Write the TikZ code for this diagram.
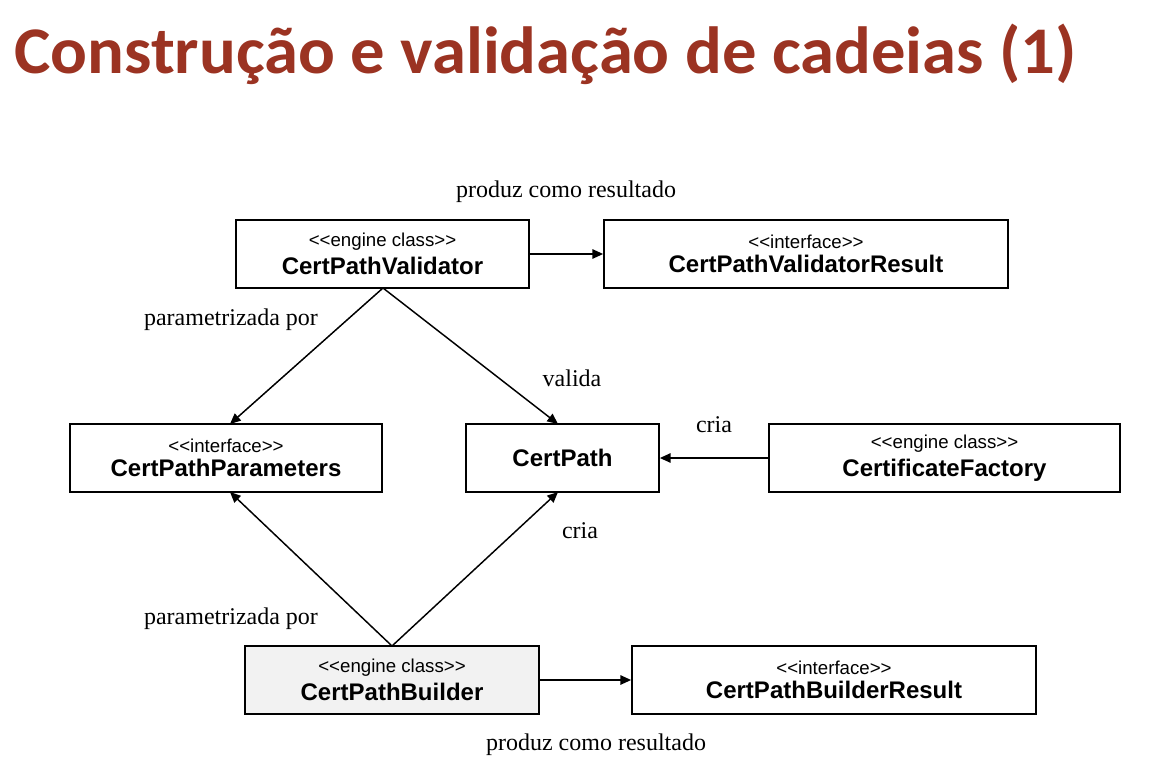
\documentclass[tikz,border=0pt]{standalone}
\usepackage{graphicx}
\usepackage{fontspec}
\setmainfont{Liberation Serif}
\setsansfont{Liberation Sans}
\newfontfamily\titlefont{Carlito}
\usetikzlibrary{arrows.meta}
\definecolor{titlered}{HTML}{9B3322}
\definecolor{shade}{HTML}{F2F2F2}
\tikzset{
  box/.style={draw, line width=1.3pt, inner sep=0pt, minimum height=51pt, align=center, font=\sffamily},
  conn/.style={line width=1.1pt, -{Triangle[length=8pt,width=7pt]}},
  lbl/.style={font=\fontsize{18}{20}\selectfont, inner sep=0pt},
}
\newcommand{\stereo}[1]{{\fontsize{14}{15}\selectfont #1}}
\newcommand{\cname}[1]{{\fontsize{18}{20}\selectfont\bfseries #1}}
\begin{document}
\begin{tikzpicture}[x=0.75pt,y=-0.75pt]
\useasboundingbox (0,0) rectangle (1162,777);
\node[anchor=base west, inner sep=0pt, text=titlered, font=\titlefont\bfseries\fontsize{50}{56}\selectfont] (title) at (14,74) {\resizebox{797pt}{\height}{Construção e validação de cadeias (1)}};

\node[box, minimum width=219.75pt] (cpv) at (382.5,254) {\stereo{<{}<engine class>{}>}\\[4pt]\cname{CertPathValidator}};
\node[box, minimum width=303pt] (cpvr) at (806,254) {\stereo{<{}<interface>{}>}\\[4pt]\cname{CertPathValidatorResult}};
\node[box, minimum width=234pt] (cpp) at (226,458) {\stereo{<{}<interface>{}>}\\[4pt]\cname{CertPathParameters}};
\node[box, minimum width=144.75pt] (cp) at (562.5,458) {\cname{CertPath}};
\node[box, minimum width=263.25pt] (cf) at (944.5,458) {\stereo{<{}<engine class>{}>}\\[4pt]\cname{CertificateFactory}};
\node[box, minimum width=220.5pt, fill=shade] (cpb) at (392,680) {\stereo{<{}<engine class>{}>}\\[4pt]\cname{CertPathBuilder}};
\node[box, minimum width=303pt] (cpbr) at (834,680) {\stereo{<{}<interface>{}>}\\[4pt]\cname{CertPathBuilderResult}};

\coordinate (cpvb) at (383,288);
\coordinate (cppt) at (230,424);
\coordinate (cpt) at (558,424);
\coordinate (cppb) at (230,492);
\coordinate (cpbo) at (558,492);
\coordinate (cpbt) at (392,646);

\draw[conn] (cpv.east) -- (cpvr.west);
\draw[conn] (cpvb) -- (cppt);
\draw[conn] (cpvb) -- (cpt);
\draw[conn] (cf.west) -- (cp.east);
\draw[conn] (cpbt) -- (cppb);
\draw[conn] (cpbt) -- (cpbo);
\draw[conn] (cpb.east) -- (cpbr.west);

\node[lbl] (l1) at (566,192) {produz como resultado};
\node[lbl] (l2) at (231,320) {parametrizada por};
\node[lbl] (l3) at (572,378) {valida};
\node[lbl] (l4) at (714,425) {cria};
\node[lbl] (l5) at (580,531) {cria};
\node[lbl] (l6) at (231,619) {parametrizada por};
\node[lbl] (l7) at (596,745) {produz como resultado};
\end{tikzpicture}
\end{document}
